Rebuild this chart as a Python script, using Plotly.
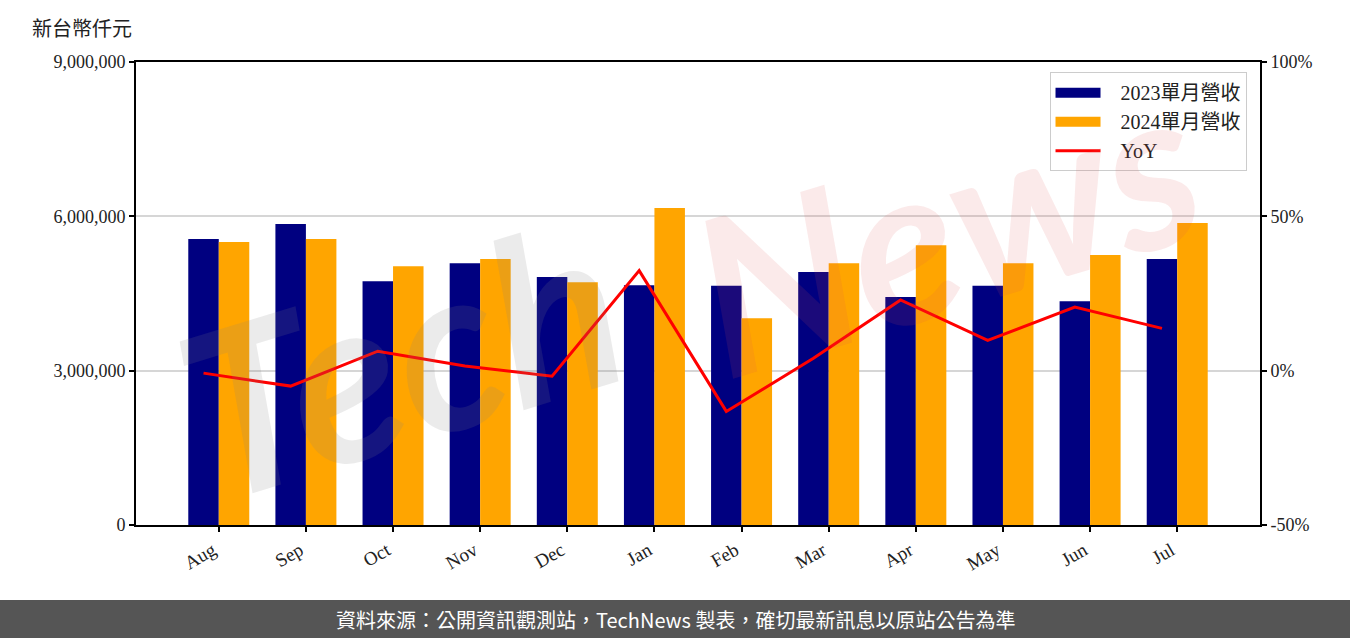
import plotly.graph_objects as go

months = ["Aug", "Sep", "Oct", "Nov", "Dec", "Jan", "Feb", "Mar", "Apr", "May", "Jun", "Jul"]
rev_2023 = [5560000, 5850000, 4740000, 5090000, 4820000, 4660000, 4650000, 4920000, 4430000, 4650000, 4350000, 5170000]
rev_2024 = [5500000, 5560000, 5030000, 5170000, 4720000, 6160000, 4020000, 5090000, 5440000, 5090000, 5250000, 5870000]
yoy = [-0.8, -5.0, 6.3, 1.5, -1.8, 32.4, -13.2, 4.0, 22.9, 9.8, 20.6, 13.7]

series_names = ["2023單月營收", "2024單月營收", "YoY"]
series_colors = ["#000080", "#FFA500", "#FF0000"]

y_ticks = [0, 3000000, 6000000, 9000000]
y2_ticks = [-50, 0, 50, 100]
y2_labels = ["-50%", "0%", "50%", "100%"]

idx = list(range(len(months)))
bar_w = 0.35
line_x = [i - bar_w / 2 for i in idx]

FONT = "Liberation Serif, Noto Sans CJK TC, serif"
CJK = "Noto Sans CJK TC, sans-serif"

fig = go.Figure()
fig.add_trace(go.Bar(x=idx, y=rev_2023, width=bar_w, offset=-bar_w, name=series_names[0],
                     showlegend=False, marker=dict(color=series_colors[0], line=dict(width=0))))
fig.add_trace(go.Bar(x=idx, y=rev_2024, width=bar_w, offset=0, name=series_names[1],
                     showlegend=False, marker=dict(color=series_colors[1], line=dict(width=0))))
fig.add_trace(go.Scatter(x=line_x, y=yoy, name=series_names[2], mode="lines", yaxis="y2",
                         showlegend=False, line=dict(color=series_colors[2], width=3)))

# legend entries (rectangular swatches like the reference)
for i, (nm, col) in enumerate(zip(series_names, series_colors)):
    fig.add_trace(go.Scatter(x=[None], y=[None], mode="lines",
                             name="\u00a0\u00a0\u00a0" + nm, legendgroup=str(i),
                             line=dict(color=col, width=16 if i < 2 else 3), hoverinfo="skip"))

fig.update_layout(
    width=1350, height=638,
    margin=dict(l=136, r=90, t=62, b=113),
    paper_bgcolor="white", plot_bgcolor="white",
    font=dict(family=FONT, size=18, color="#222"),
    showlegend=True,
    barmode="overlay",
    legend=dict(x=0.988, y=0.978, xanchor="right", yanchor="top",
                bgcolor="rgba(255,255,255,0.8)", bordercolor="#cccccc", borderwidth=1,
                font=dict(family=FONT, size=20, color="#222"), tracegroupgap=0,
                itemwidth=45),
    xaxis=dict(range=[-0.95, 11.95], tickmode="array", tickvals=idx, ticktext=months,
               tickangle=-30, ticks="outside", ticklen=5, tickwidth=1.5, tickcolor="black",
               showline=True, linecolor="black", linewidth=2, mirror=True,
               ticklabelshift=-6,
               showgrid=False, zeroline=False, tickfont=dict(family=FONT, size=19)),
    yaxis=dict(range=[0, 9000000], tickmode="array", tickvals=y_ticks,
               tickformat=",d", ticks="outside", ticklen=5, tickwidth=1.5, tickcolor="black",
               showline=True, linecolor="black", linewidth=2,
               showgrid=True, gridcolor="#d6d6d6", gridwidth=1.5, zeroline=False,
               tickfont=dict(family=FONT, size=18)),
    yaxis2=dict(range=[-50, 100], overlaying="y", side="right", tickmode="array",
                tickvals=y2_ticks, ticktext=y2_labels, ticks="outside", ticklen=5, tickwidth=1.5,
                tickcolor="black", showline=True, linecolor="black", linewidth=2,
                showgrid=False, zeroline=False, tickfont=dict(family=FONT, size=18)),
)

# unit label
fig.add_annotation(text="新台幣仟元", xref="paper", yref="paper", x=(30 - 136) / 1124, y=(525 - 27) / 463,
                   xanchor="left", yanchor="middle", showarrow=False,
                   font=dict(family=CJK, size=20, color="#222"))

# watermark
fig.add_annotation(text="<b><i>Tech</i></b>", xref="paper", yref="paper",
                   x=(400 - 136) / 1124, y=(525 - 355) / 463, xanchor="center", yanchor="middle",
                   showarrow=False, textangle=-17,
                   font=dict(family="Lato, sans-serif", size=230, color="rgba(128,128,128,0.16)"))
fig.add_annotation(text="<b><i>News</i></b>", xref="paper", yref="paper",
                   x=(945 - 136) / 1124, y=(525 - 225) / 463, xanchor="center", yanchor="middle",
                   showarrow=False, textangle=-17,
                   font=dict(family="Lato, sans-serif", size=220, color="rgba(220,80,80,0.12)"))

# footer band
fig.add_shape(type="rect", xref="paper", yref="paper",
              x0=-136 / 1124 - 0.01, x1=1 + 90 / 1124 + 0.01,
              y0=(525 - 645) / 463, y1=(525 - 600) / 463,
              fillcolor="#555555", line=dict(width=0), layer="above")
fig.add_annotation(text="資料來源：公開資訊觀測站，TechNews 製表，確切最新訊息以原站公告為準",
                   xref="paper", yref="paper", x=(675 - 136) / 1124, y=(525 - 619) / 463,
                   xanchor="center", yanchor="middle", showarrow=False,
                   font=dict(family=CJK, size=20, color="white"))

fig.write_html("out.html", config={"displayModeBar": False},
               post_script="document.body.style.margin='0';document.body.style.overflow='hidden';")
